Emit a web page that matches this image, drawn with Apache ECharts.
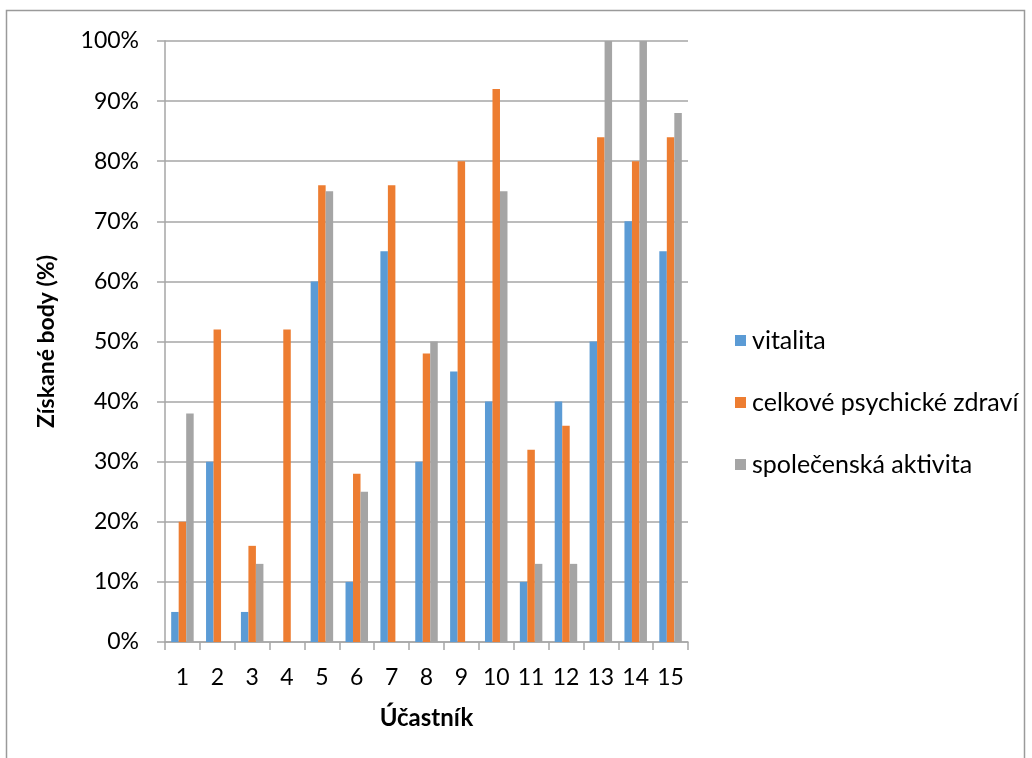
<!DOCTYPE html>
<html>
<head>
<meta charset="utf-8">
<script src="https://cdn.jsdelivr.net/npm/echarts@6/dist/echarts.min.js"></script>
<style>
html,body{margin:0;padding:0;background:#fff;}
#chart{width:1032px;height:758px;}
</style>
</head>
<body>
<div id="chart"></div>
<script>
const categories = ['1','2','3','4','5','6','7','8','9','10','11','12','13','14','15'];
const vitalita = [5,30,5,0,60,10,65,30,45,40,10,40,50,70,65];
const psychicke = [20,52,16,52,76,28,76,48,80,92,32,36,84,80,84];
const spolecenska = [38,0,13,0,75,25,0,50,0,75,13,13,100,100,88];
const seriesNames = ['vitalita','celkové psychické zdraví','společenská aktivita'];
const colors = ['#5B9BD5','#ED7D31','#A5A5A5'];

const font = 'Lato, "Open Sans", sans-serif';
const chart = echarts.init(document.getElementById('chart'));
const mk = (name, data, color) => ({
  name, type: 'bar', data, barWidth: 7.5, barGap: '0%',
  itemStyle: {color}, emphasis: {disabled: true}
});
chart.setOption({
  animation: false,
  textStyle: {fontFamily: font},
  graphic: [{
    type: 'rect', shape: {x: 6.5, y: 10.5, width: 1018, height: 760},
    style: {fill: 'none', stroke: '#9a9a9a', lineWidth: 1.5}, silent: true
  }],
  grid: {left: 165, right: 344, top: 41, bottom: 116},
  legend: {
    orient: 'vertical', left: 730, top: 323, itemGap: 37,
    itemWidth: 11, itemHeight: 11, icon: 'rect',
    textStyle: {fontSize: 25, color: '#000', fontFamily: font, padding: [0,0,0,1]},
    data: seriesNames
  },
  xAxis: {
    type: 'category', data: categories,
    name: 'Účastník', nameLocation: 'middle', nameGap: 64,
    nameTextStyle: {fontSize: 24, fontWeight: 'bold', color: '#000'},
    axisLine: {lineStyle: {color: '#a6a6a6', width: 1.5}},
    axisTick: {show: true, length: 8, lineStyle: {color: '#a6a6a6', width: 1.5}},
    axisLabel: {fontSize: 23, color: '#000', margin: 24}
  },
  yAxis: {
    type: 'value', min: 0, max: 100, interval: 10,
    name: 'Získané body (%)', nameLocation: 'middle', nameGap: 107, nameRotate: 90,
    nameTextStyle: {fontSize: 23, fontWeight: 'bold', color: '#000'},
    axisLine: {show: true, lineStyle: {color: '#a6a6a6', width: 1.5}},
    axisTick: {show: true, length: 8, lineStyle: {color: '#a6a6a6', width: 1.5}},
    axisLabel: {fontSize: 23, color: '#000', margin: 26, formatter: '{value}%'},
    splitLine: {lineStyle: {color: '#a6a6a6', width: 1.5}}
  },
  series: [
    mk(seriesNames[0], vitalita, colors[0]),
    mk(seriesNames[1], psychicke, colors[1]),
    mk(seriesNames[2], spolecenska, colors[2])
  ]
});
</script>
</body>
</html>
